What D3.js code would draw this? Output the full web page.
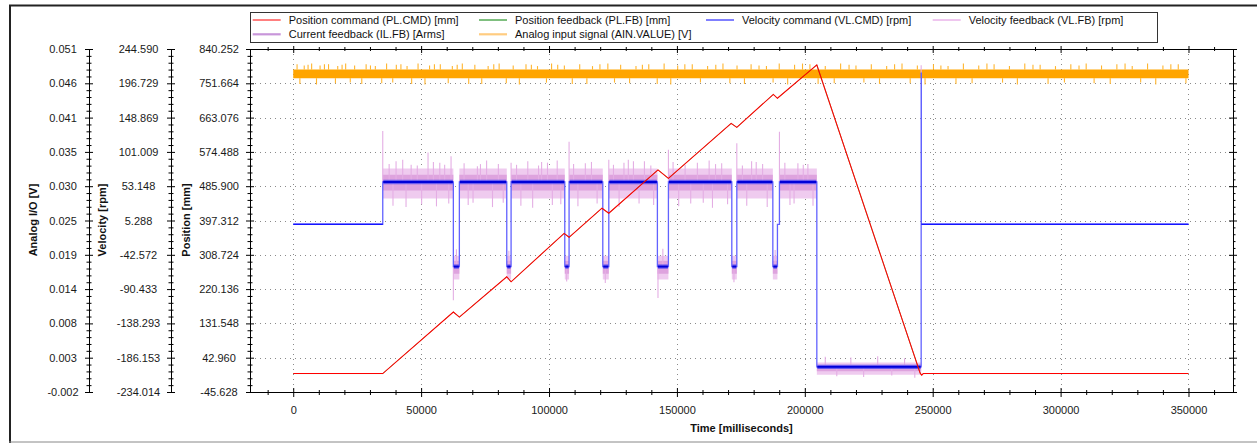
<!DOCTYPE html>
<html><head><meta charset="utf-8">
<script src="https://cdn.jsdelivr.net/npm/d3@7"></script>
<style>
body{margin:0;background:#fff;}
svg{display:block;font-family:Arial,"Liberation Sans",sans-serif;}
</style></head><body>
<svg id="c" width="1257" height="443"></svg>
<script>
// ---------------- DATA ----------------
const xTicks = [0, 50000, 100000, 150000, 200000, 250000, 300000, 350000];
const xDomain = [-16900, 367400];
const posTickLabels = ["-45.628","42.960","131.548","220.136","308.724","397.312","485.900","574.488","663.076","751.664","840.252"];
const velTickLabels = ["-234.014","-186.153","-138.293","-90.433","-42.572","5.288","53.148","101.009","148.869","196.729","244.590"];
const ainTickLabels = ["-0.002","0.003","0.008","0.014","0.019","0.025","0.030","0.035","0.041","0.046","0.051"];
const ainDomain = [-0.00249, 0.05149];

// Position command / feedback [mm]
const posT   = [0, 35000, 62600, 64950, 83480, 85170, 105900, 107840, 120700, 123370, 142600, 146680, 171200, 173420, 187700, 189300, 204700, 245100, 245700, 246300, 350000];
const posCmd = [2, 2, 161, 148, 252, 239, 364, 354, 429, 416, 528, 506, 648, 638, 723, 713, 799, 3, -2, 2, 2];
const posFb  = [2, 2, 161, 148, 252, 239, 364, 354, 429, 416, 528, 506, 648, 638, 723, 713, 799, 3, -2, 2, 2];

// Velocity command plateaus [rpm]
const velSegStart = [0, 35000, 62600, 64950, 83480, 85170, 106160, 107840, 121020, 123370, 142370, 146680, 171460, 173420, 187500, 189300, 190080, 204700, 245490, 245560];
const velSegLevel = [0, 59, -59, 59, -59, 59, -59, 59, -59, 59, -59, 59, -59, 59, -59, 0, 59, -199, 211, 0];
const velEnd = 350000;
// Velocity feedback noise envelope (offset from command level) per plateau [rpm]
const fbOuterHi = [0, 19, 15, 19, 15, 19, 15, 19, 15, 19, 15, 19, 15, 19, 15, 0, 19, 6, 0, 0];
const fbOuterLo = [0, -23, -18, -23, -18, -23, -18, -23, -18, -23, -18, -23, -18, -23, -18, 0, -23, -11, 0, 0];
const fbInnerHi = [0, 10, 8, 10, 8, 10, 8, 10, 8, 10, 8, 10, 8, 10, 8, 0, 10, 3, 0, 0];
const fbInnerLo = [0, -12, -10, -12, -10, -12, -10, -12, -10, -12, -10, -12, -10, -12, -10, 0, -12, -6, 0, 0];
// Velocity feedback spikes [time ms, rpm]
const fbSpikes = [[35000,130],[37500,84],[39000,26],[40200,88],[42800,90],[44100,24],[46100,83],[48500,82],[50200,28],[52700,100],[54800,87],[56000,25],[57300,86],[59200,83],[60800,29],[61700,95],[62600,-106],[63800,-35],
 [66800,85],[68400,27],[70300,30],[72000,81],[73200,84],[75600,89],[77900,24],[80200,84],[82100,30],[84300,-37],[85170,86],[87300,83],[89000,26],[91700,88],[93600,23],[95900,82],[97100,87],[99400,86],[101300,27],[103200,89],[104600,28],[106900,-80],
 [107840,115],[109600,84],[111300,25],[114200,85],[116600,87],[118800,29],[122000,-82],[123370,90],[125200,83],[127400,24],[129300,86],[131000,90],[133000,88],[135200,29],[137300,88],[139800,82],[140900,27],[142600,-103],[144500,-34],
 [146680,104],[148500,87],[150700,25],[153200,83],[155400,29],[158000,86],[160300,30],[162600,89],[163900,23],[165100,84],[167500,85],[169800,28],[172300,-81],[173420,113],[175600,82],[177300,26],[179200,88],[181000,87],[183500,84],[185300,24],[188400,-36],
 [190080,129],[192200,86],[194200,27],[195800,29],[197300,85],[199400,83],[201200,84],[203200,26],[208000,-185],[212500,-212],[218000,-186],[223000,-213],[228500,-184],[234000,-211],[239000,-187],[243000,-214],[245490,222]];

// Analog input signal [V]: core band and spikes
const ainCore = [0.04688, 0.04826];
const ainT0 = 0, ainT1 = 350000;
const ainSpikes = [[1500,0.0491],[2600,0.0460],[4300,0.0489],[5800,0.0490],[7200,0.0492],[9100,0.0459],[10500,0.0489],[12200,0.0491],[13800,0.0491],[16500,0.0461],[17400,0.0488],[19100,0.0490],[20500,0.0492],[22300,0.0462],[24000,0.0489],[26800,0.0460],[28500,0.0491],[30200,0.0489],[32100,0.0488],[34600,0.0461],[36500,0.0492],[38900,0.0462],[40300,0.0490],[42100,0.0491],[44500,0.0488],[46300,0.0460],[48800,0.0492],[51500,0.0459],[53300,0.0489],[55200,0.0491],[57500,0.0491],[60600,0.0461],[62200,0.0488],[64100,0.0490],[66100,0.0492],[68600,0.0460],[71000,0.0490],[73700,0.0460],[76200,0.0488],[78400,0.0491],[80500,0.0492],[83300,0.0461],[86000,0.0489],[88400,0.0459],[91000,0.0491],[93100,0.0490],[95500,0.0488],[99000,0.0462],[101000,0.0492],[103400,0.0490],[106000,0.0489],[109100,0.0460],[112000,0.0491],[114800,0.0460],[117000,0.0488],[119900,0.0491],[123000,0.0492],[125600,0.0462],[128000,0.0490],[131500,0.0461],[134000,0.0488],[136500,0.0490],[139000,0.0491],[142300,0.0460],[145000,0.0492],[147600,0.0459],[150300,0.0489],[153100,0.0491],[156000,0.0491],[159200,0.0462],[162000,0.0488],[165200,0.0490],[168000,0.0492],[170700,0.0461],[173500,0.0489],[176400,0.0460],[179000,0.0491],[182100,0.0489],[185000,0.0488],[187600,0.0462],[190000,0.0492],[193300,0.0459],[196000,0.0490],[199100,0.0492],[202000,0.0491],[205200,0.0460],[208000,0.0488],[211500,0.0461],[214000,0.0492],[217300,0.0490],[220000,0.0489],[223100,0.0462],[226000,0.0491],[229200,0.0460],[232000,0.0488],[235100,0.0491],[238000,0.0492],[241200,0.0461],[244000,0.0489],[247000,0.0459],[250300,0.0491],[253200,0.0489],[256000,0.0488],[259100,0.0460],[262000,0.0492],[265400,0.0461],[268000,0.0489],[271200,0.0492],[274000,0.0491],[277300,0.0462],[280000,0.0488],[283100,0.0459],[286000,0.0492],[289200,0.0490],[292000,0.0490],[295100,0.0460],[298000,0.0488],[301500,0.0462],[304000,0.0491],[307200,0.0489],[310000,0.0492],[313100,0.0461],[316000,0.0489],[319400,0.0460],[322000,0.0491],[325200,0.0492],[328000,0.0488],[331300,0.0462],[334000,0.0492],[337200,0.0459],[340000,0.0489],[343100,0.0491],[346000,0.0491],[349000,0.0461]];

// Legend
const legendNames  = ["Position command (PL.CMD) [mm]","Position feedback (PL.FB) [mm]","Velocity command (VL.CMD) [rpm]","Velocity feedback (VL.FB) [rpm]","Current feedback (IL.FB) [Arms]","Analog input signal (AIN.VALUE) [V]"];
const legendColors = ["#ff0000","#008000","#0000ff","#e08ee0","#c896da","#ffcc80"];
const legendWidths = [1,1,1,1,2.2,2.2];

// ---------------- LAYOUT ----------------
const L = 250, R = 1233, T = 49, B = 392;
const svg = d3.select("#c");

// frame
svg.append("line").attr("x1",9).attr("x2",1257).attr("y1",5.5).attr("y2",5.5).attr("stroke","#222").attr("stroke-width",2);
svg.append("line").attr("x1",10).attr("x2",10).attr("y1",5).attr("y2",443).attr("stroke","#222").attr("stroke-width",2);
svg.append("line").attr("x1",9).attr("x2",1257).attr("y1",442).attr("y2",442).attr("stroke","#888").attr("stroke-width",1);

const x = d3.scaleLinear().domain(xDomain).range([L, R]);
const yPos = d3.scaleLinear().domain([+posTickLabels[0], +posTickLabels[10]]).range([B, T]);
const yVel = d3.scaleLinear().domain([+velTickLabels[0], +velTickLabels[10]]).range([B, T]);
const yAin = d3.scaleLinear().domain(ainDomain).range([B, T]);

function majorsOf(s){ const d=s.domain(); return d3.range(11).map(i=>d[0]+i*(d[1]-d[0])/10); }
function minorsOf(s){ const d=s.domain(); return d3.range(51).filter(i=>i%5).map(i=>d[0]+i*(d[1]-d[0])/50); }

// grid
const grid = svg.append("g").attr("stroke","#8a8a8a").attr("stroke-dasharray","1,4").attr("stroke-width",1);
grid.selectAll("line.v").data(xTicks).join("line")
  .attr("x1",d=>Math.round(x(d))+0.5).attr("x2",d=>Math.round(x(d))+0.5).attr("y1",T).attr("y2",B);
grid.selectAll("line.h").data(majorsOf(yPos).slice(1,10)).join("line").attr("class","h")
  .attr("x1",L).attr("x2",R).attr("y1",d=>Math.round(yPos(d))+0.5).attr("y2",d=>Math.round(yPos(d))+0.5);

// y axes
function yAxis(scale, ax, labels, labelCx){
  const majors = majorsOf(scale), minors = minorsOf(scale);
  const g = svg.append("g").attr("transform",`translate(${ax},0)`);
  g.append("g").call(d3.axisLeft(scale).tickValues(majors).tickSize(4).tickSizeOuter(0)
      .tickFormat(d=>labels[majors.indexOf(d)]))
    .call(a=>a.selectAll("text").attr("x", labelCx-ax).attr("text-anchor","middle").attr("font-size",11).attr("font-family","Arial, Liberation Sans, sans-serif").attr("fill","#1a1a1a"));
  g.append("g").call(d3.axisRight(scale).tickValues(majors).tickSize(4).tickFormat("")).call(a=>a.select(".domain").remove());
  g.append("g").call(d3.axisLeft(scale).tickValues(minors).tickSize(2.5).tickFormat("")).call(a=>a.select(".domain").remove());
  g.append("g").call(d3.axisRight(scale).tickValues(minors).tickSize(2.5).tickFormat("")).call(a=>a.select(".domain").remove());
  return g;
}
yAxis(yAin, 89, ainTickLabels, 63);
yAxis(yVel, 171, velTickLabels, 138.5);
yAxis(yPos, 250, posTickLabels, 219);

// right mirror axis
const rg = svg.append("g").attr("transform",`translate(${R},0)`);
rg.append("g").call(d3.axisRight(yPos).tickValues(majorsOf(yPos)).tickSize(4).tickSizeOuter(0).tickFormat(""));
rg.append("g").call(d3.axisLeft(yPos).tickValues(majorsOf(yPos)).tickSize(4).tickFormat("")).call(a=>a.select(".domain").remove());
rg.append("g").call(d3.axisRight(yPos).tickValues(minorsOf(yPos)).tickSize(2.5).tickFormat("")).call(a=>a.select(".domain").remove());

// x axis
const xMinors = d3.range(-10000, xDomain[1], 10000).filter(d=>d%50000!==0);
const xg = svg.append("g").attr("transform",`translate(0,${B})`);
xg.append("g").call(d3.axisBottom(x).tickValues(xTicks).tickSize(5).tickSizeOuter(0).tickFormat(d3.format("d")))
  .call(a=>a.selectAll("text").attr("font-size",11).attr("dy","1.25em").attr("fill","#1a1a1a").attr("font-family","Arial, Liberation Sans, sans-serif"));
xg.append("g").call(d3.axisTop(x).tickValues(xTicks).tickSize(4).tickFormat("")).call(a=>a.select(".domain").remove());
xg.append("g").call(d3.axisBottom(x).tickValues(xMinors).tickSize(3).tickFormat("")).call(a=>a.select(".domain").remove());
xg.append("g").call(d3.axisTop(x).tickValues(xMinors).tickSize(2).tickFormat("")).call(a=>a.select(".domain").remove());
// top mirror axis
const tg = svg.append("g").attr("transform",`translate(0,${T})`);
tg.append("g").call(d3.axisBottom(x).tickValues(xTicks).tickSize(4).tickSizeOuter(0).tickFormat(""));
tg.append("g").call(d3.axisTop(x).tickValues(xTicks).tickSize(3).tickFormat("")).call(a=>a.select(".domain").remove());
tg.append("g").call(d3.axisBottom(x).tickValues(xMinors).tickSize(2).tickFormat("")).call(a=>a.select(".domain").remove());
tg.append("g").call(d3.axisTop(x).tickValues(xMinors).tickSize(2).tickFormat("")).call(a=>a.select(".domain").remove());

// axis titles
const tf = {"font-size":11,"font-weight":"bold","text-anchor":"middle","fill":"#111"};
function title(txt, cx, cy, rot){
  const t = svg.append("text").text(txt).attr("transform",`translate(${cx},${cy}) rotate(${rot})`).attr("dy","0.35em");
  Object.entries(tf).forEach(([k,v])=>t.attr(k,v));
}
title("Analog I/O [V]", 33, 220, -90);
title("Velocity [rpm]", 102.5, 220, -90);
title("Position [mm]", 186, 220, -90);
title("Time [milliseconds]", (L+R)/2, 428, 0);

// ---------------- SERIES ----------------
svg.append("clipPath").attr("id","pc").append("rect").attr("x",L).attr("y",T-1).attr("width",R-L).attr("height",B-T+1);
const plot = svg.append("g").attr("clip-path","url(#pc)");

// Analog input signal
const ainArea = d3.area().x(d=>x(d)).y0(yAin(ainCore[0])).y1(yAin(ainCore[1]));
plot.append("g").selectAll("line").data(ainSpikes).join("line")
  .attr("x1",d=>x(d[0])).attr("x2",d=>x(d[0]))
  .attr("y1",d=>yAin(d[1] > ainCore[1] ? ainCore[1] : ainCore[0])).attr("y2",d=>yAin(d[1]))
  .attr("stroke","#ffb52e").attr("stroke-width",1.1);
plot.append("path").datum([ainT0, ainT1]).attr("d", ainArea).attr("fill","#ffa500");

// velocity segments
const segs = velSegStart.map((s,i)=>({s, e: i<velSegStart.length-1 ? velSegStart[i+1] : velEnd, v: velSegLevel[i], i}));
const levelAt = t => { const sg = segs.find(g=>t>=g.s && t<g.e) || segs[segs.length-1]; return sg.v; };

// Velocity feedback band
const noisy = segs.filter(g=>fbOuterHi[g.i]!==0);
const bandArea = (hi, lo) => d3.area().x(d=>x(d.t)).y0(d=>yVel(d.v+lo)).y1(d=>yVel(d.v+hi));
noisy.forEach(g=>{
  const pts = [{t:g.s, v:g.v},{t:g.e, v:g.v}];
  plot.append("path").datum(pts).attr("d", bandArea(fbOuterHi[g.i], fbOuterLo[g.i])).attr("fill","#efcbef");
  plot.append("path").datum(pts).attr("d", bandArea(fbInnerHi[g.i], fbInnerLo[g.i])).attr("fill","#dea3de");
});
plot.append("g").selectAll("line").data(fbSpikes).join("line")
  .attr("x1",d=>x(d[0])).attr("x2",d=>x(d[0]))
  .attr("y1",d=>yVel(levelAt(d[0]+1))).attr("y2",d=>yVel(d[1]))
  .attr("stroke","#e4aee4").attr("stroke-width",1.1);

// Velocity command
const stepPts = [];
segs.forEach(g=>{ stepPts.push([g.s, g.v]); stepPts.push([g.e, g.v]); });
plot.append("path").datum(stepPts).attr("d", d3.line().x(d=>x(d[0])).y(d=>yVel(d[1])))
  .attr("fill","none").attr("stroke","#6262ff").attr("stroke-width",1.3);
noisy.forEach(g=>{
  const pts = [{t:g.s+200, v:g.v},{t:g.e-200, v:g.v}];
  plot.append("path").datum(pts).attr("d", bandArea(3, -3)).attr("fill","#3a3af5").attr("opacity",0.7);
  plot.append("path").datum(pts).attr("d", bandArea(1.3, -1.3)).attr("fill","#0000d8");
});
segs.filter(g=>g.v===0 && g.e-g.s>5000).forEach(g=>{
  plot.append("path").datum([[g.s,0],[g.e,0]]).attr("d", d3.line().x(d=>x(d[0])).y(d=>yVel(d[1])))
    .attr("stroke","#1515ff").attr("stroke-width",1.4).attr("fill","none");
});

// Position feedback (under) and command
const posLine = vals => d3.line().x((d,i)=>x(posT[i])).y(d=>yPos(d))(vals);
plot.append("path").attr("d", posLine(posFb)).attr("fill","none").attr("stroke","#008000").attr("stroke-width",0.5);
plot.append("path").attr("d", posLine(posCmd)).attr("fill","none").attr("stroke","#ff0000").attr("stroke-width",1.05);

// ---------------- LEGEND ----------------
const lg = svg.append("g");
lg.append("rect").attr("x",250.5).attr("y",12.5).attr("width",907).attr("height",30).attr("fill","#fff").attr("stroke","#333");
const colX = [252.7, 479, 706, 932.7];
const rowY = [20, 34.3];
legendNames.forEach((n,i)=>{
  const cx = colX[i%4], cy = rowY[Math.floor(i/4)];
  lg.append("line").attr("x1",cx).attr("x2",cx+28).attr("y1",cy).attr("y2",cy).attr("stroke",legendColors[i]).attr("stroke-width",legendWidths[i]);
  lg.append("text").attr("x",cx+36).attr("y",cy).attr("dy","0.35em").attr("font-size",11).attr("fill","#111").text(n);
});
</script>
</body></html>
